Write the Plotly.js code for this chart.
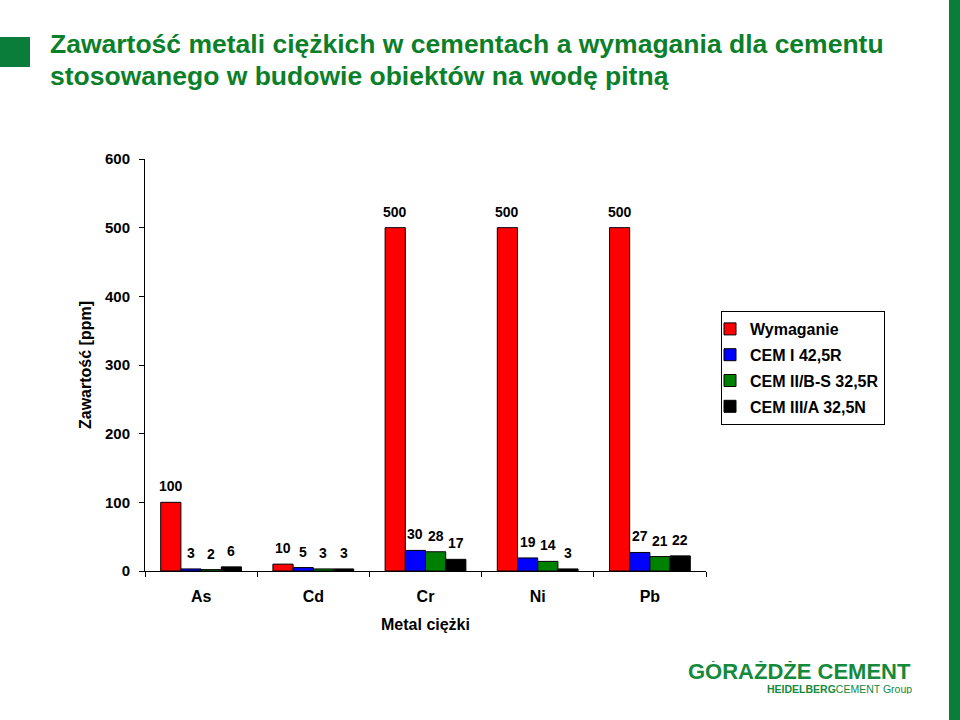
<!DOCTYPE html>
<html>
<head>
<meta charset="utf-8">
<script src="https://cdn.plot.ly/plotly-3.0.1.min.js"></script>
<style>html,body{margin:0;padding:0;background:#fff;}#chart{width:960px;height:720px;}</style>
</head>
<body>
<div id="chart"></div>
<script>
const categories = ["As", "Cd", "Cr", "Ni", "Pb"];
const seriesNames = ["Wymaganie", "CEM I 42,5R", "CEM II/B-S 32,5R", "CEM III/A 32,5N"];
const wymaganie = [100, 10, 500, 500, 500];
const cemI = [3, 5, 30, 19, 27];
const cemII = [2, 3, 28, 14, 21];
const cemIII = [6, 3, 17, 3, 22];
const seriesColors = ["#ff0000", "#0000ff", "#008000", "#000000"];
const yTicks = [0, 100, 200, 300, 400, 500, 600];
const titleLines = ["Zawartość metali ciężkich w cementach a wymagania dla cementu",
                    "stosowanego w budowie obiektów na wodę pitną"];

const FONT = "Arial, 'Liberation Sans', sans-serif";
const GREEN = "#0c7f2a";
const allSeries = [wymaganie, cemI, cemII, cemIII];

const M = {l: 145, r: 254, t: 159, b: 149};
const plotW = 960 - M.l - M.r, plotH = 720 - M.t - M.b;
const BARGAP = 0.28;
const barW = plotW / categories.length * (1 - BARGAP) / allSeries.length;
const px = v => (v - M.l) / plotW;       // pixel x -> paper
const py = v => (720 - M.b - v) / plotH; // pixel y -> paper

const traces = allSeries.map((vals, i) => ({
  type: "bar",
  name: seriesNames[i],
  x: categories,
  y: vals,
  marker: {color: seriesColors[i], line: {color: "#000", width: 1}},
  legendgroup: "g" + i,
  hoverinfo: "none"
}));

const labelAnns = [];
allSeries.forEach((vals, i) => {
  vals.forEach((v, j) => {
    labelAnns.push({
      x: categories[j], y: v, xref: "x", yref: "y",
      text: String(v), showarrow: false,
      xanchor: "center", yanchor: "bottom",
      xshift: (i - (allSeries.length - 1) / 2) * barW,
      yshift: 6,
      font: {family: FONT, size: 14, color: "#000", weight: "bold"}
    });
  });
});

const titleAnns = titleLines.map((t, k) => ({
  text: t, xref: "paper", yref: "paper",
  x: px(48), y: py(44 + 32 * k), xanchor: "left", yanchor: "middle",
  showarrow: false,
  font: {family: FONT, size: 26.5, color: GREEN, weight: "bold"}
}));

const layout = {
  width: 960, height: 720,
  margin: M,
  paper_bgcolor: "#fff", plot_bgcolor: "#fff",
  font: {family: FONT, color: "#000"},
  barmode: "group",
  bargap: BARGAP,
  bargroupgap: 0,
  showlegend: true,
  legend: {
    x: px(721), y: py(311), xanchor: "left", yanchor: "top",
    bordercolor: "#000", borderwidth: 1, bgcolor: "#fff",
    font: {family: FONT, size: 16, color: "#000", weight: "bold"},
    traceorder: "grouped", tracegroupgap: 2,
    itemwidth: 30, indentation: -12
  },
  xaxis: {
    type: "category",
    showline: true, linecolor: "#000", linewidth: 1,
    ticks: "outside", ticklen: 5, tickcolor: "#000",
    tickson: "boundaries",
    ticklabelstandoff: 11,
    tickfont: {family: FONT, size: 16, color: "#000", weight: "bold"},
    title: {text: "Metal ciężki", font: {family: FONT, size: 16, color: "#000", weight: "bold"}, standoff: 14},
    showgrid: false, zeroline: false, fixedrange: true
  },
  yaxis: {
    range: [0, 600],
    tickvals: yTicks,
    ticktext: yTicks.map(String),
    showline: true, linecolor: "#000", linewidth: 1,
    ticks: "outside", ticklen: 5, tickcolor: "#000",
    tickfont: {family: FONT, size: 15, color: "#000", weight: "bold"},
    ticklabelstandoff: 6,
    title: {text: "Zawartość [ppm]", font: {family: FONT, size: 16, color: "#000", weight: "bold"}, standoff: 9},
    showgrid: false, zeroline: false, fixedrange: true
  },
  shapes: [
    {type: "rect", xref: "paper", yref: "paper", x0: px(0), x1: px(30), y0: py(37), y1: py(67), fillcolor: "#0a7d3a", line: {width: 0}, layer: "above"},
    {type: "rect", xref: "paper", yref: "paper", x0: px(949), x1: px(960), y0: py(720), y1: py(0), fillcolor: "#0a7d3a", line: {width: 0}, layer: "above"}
  ],
  annotations: labelAnns.concat(titleAnns, [
    {text: "GÓRAŻDŻE CEMENT", xref: "paper", yref: "paper", x: px(913), y: py(671), xanchor: "right", yanchor: "middle", showarrow: false,
     height: 20, font: {family: FONT, size: 22, color: "#138a3c", weight: "bold"}},
    {text: "<b>HEIDELBERG</b>CEMENT Group", xref: "paper", yref: "paper", x: px(914), y: py(688), xanchor: "right", yanchor: "middle", showarrow: false,
     height: 11, font: {family: FONT, size: 10.5, color: "#138a3c"}}
  ])
};

Plotly.newPlot("chart", traces, layout, {displayModeBar: false, staticPlot: true});
</script>
</body>
</html>
